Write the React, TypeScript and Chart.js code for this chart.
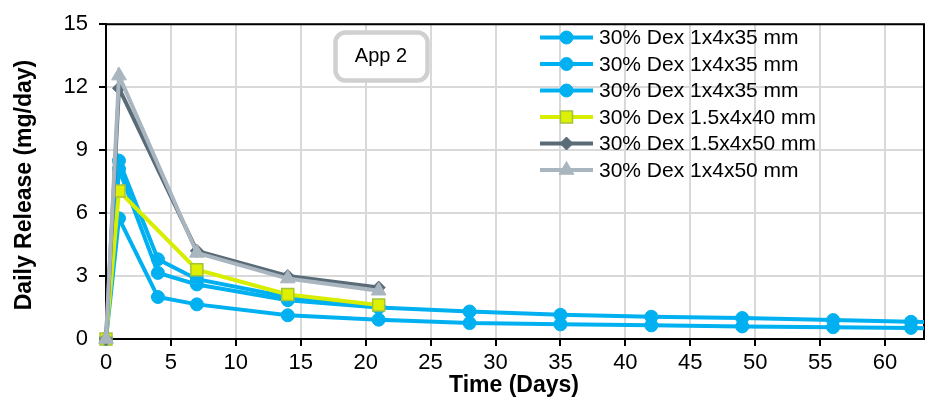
import React, { useEffect, useRef } from "react";
import { Chart, registerables } from "chart.js";

Chart.register(...registerables);

// ---- data ----
const daysShort = [0, 1, 4, 7, 14, 21];
const daysLong = [0, 1, 4, 7, 14, 21, 28, 35, 42, 49, 56, 62, 70];
const daysWeekly = [0, 1, 7, 14, 21];

const blue1 = [0, 8.5, 3.8, 2.85, 2.0, 1.55];
const blue2 = [0, 8.1, 3.15, 2.6, 1.85, 1.5, 1.31, 1.15, 1.06, 1.0, 0.9, 0.82, 0.72];
const blue3 = [0, 5.75, 2.0, 1.65, 1.13, 0.92, 0.76, 0.7, 0.65, 0.6, 0.56, 0.53, 0.42];
const yellow = [0, 7.05, 3.3, 2.12, 1.62];
const darkGray = [0, 11.95, 4.2, 3.0, 2.45];
const lightGray = [0, 12.55, 4.1, 2.88, 2.3];

const seriesLabels = [
  "30% Dex 1x4x35 mm",
  "30% Dex 1x4x35 mm",
  "30% Dex 1x4x35 mm",
  "30% Dex 1.5x4x40 mm",
  "30% Dex 1.5x4x50 mm",
  "30% Dex 1x4x50 mm",
];

const xTitle = "Time (Days)";
const yTitle = "Daily Release (mg/day)";
const boxLabel = "App 2";

const FONT = "'Liberation Sans', Arial, sans-serif";

const pts = (xs: number[], ys: number[]) => xs.map((x, i) => ({ x, y: ys[i] }));

function drawMarker(ctx: CanvasRenderingContext2D, style: string, x: number, y: number, r: number, fill: string, stroke: string, bw: number) {
  ctx.save();
  ctx.beginPath();
  if (style === "circle") {
    ctx.arc(x, y, r, 0, Math.PI * 2);
  } else if (style === "rect") {
    const s = Math.SQRT1_2 * r;
    ctx.rect(x - s, y - s, 2 * s, 2 * s);
  } else if (style === "rectRot") {
    ctx.moveTo(x - r, y);
    ctx.lineTo(x, y - r);
    ctx.lineTo(x + r, y);
    ctx.lineTo(x, y + r);
    ctx.closePath();
  } else if (style === "triangle") {
    ctx.moveTo(x, y - r);
    ctx.lineTo(x + r * Math.sin((Math.PI / 3) * 2), y + r * 0.5);
    ctx.lineTo(x - r * Math.sin((Math.PI / 3) * 2), y + r * 0.5);
    ctx.closePath();
  }
  ctx.fillStyle = fill;
  ctx.fill();
  ctx.lineWidth = bw;
  ctx.strokeStyle = stroke;
  ctx.stroke();
  ctx.restore();
}

const decorPlugin = {
  id: "decor",
  beforeDatasetsDraw(chart: any) {
    const { ctx, chartArea } = chart;
    ctx.save();
    ctx.strokeStyle = "#000";
    ctx.lineWidth = 2;
    ctx.beginPath();
    ctx.moveTo(chartArea.left, chartArea.top);
    ctx.lineTo(chartArea.right, chartArea.top);
    ctx.lineTo(chartArea.right, chartArea.bottom);
    ctx.stroke();
    ctx.restore();
  },
  afterDraw(chart: any) {
    const { ctx } = chart;
    ctx.save();
    // axis titles
    ctx.fillStyle = "#000";
    ctx.font = `bold 23px ${FONT}`;
    ctx.textAlign = "center";
    ctx.textBaseline = "middle";
    ctx.fillText(xTitle, 514, 386);
    ctx.save();
    ctx.translate(25, 185);
    ctx.rotate(-Math.PI / 2);
    ctx.fillText(yTitle, 0, 0);
    ctx.restore();

    // App 2 box
    ctx.beginPath();
    (ctx as any).roundRect(335.5, 32.5, 92, 48, 10);
    ctx.fillStyle = "#fff";
    ctx.fill();
    ctx.lineWidth = 4.5;
    ctx.strokeStyle = "#D0D0D0";
    ctx.stroke();
    ctx.fillStyle = "#000";
    ctx.font = `20px ${FONT}`;
    ctx.fillText(boxLabel, 381, 56);

    // legend
    ctx.textAlign = "left";
    ctx.font = `21px ${FONT}`;
    chart.data.datasets.forEach((ds: any, i: number) => {
      const y = 37.5 + i * 26.5;
      ctx.beginPath();
      ctx.strokeStyle = ds.borderColor;
      ctx.lineWidth = ds.borderWidth;
      ctx.moveTo(540, y);
      ctx.lineTo(593, y);
      ctx.stroke();
      drawMarker(ctx, ds.pointStyle, 566.5, y, ds.pointRadius, ds.pointBackgroundColor, ds.pointBorderColor, ds.pointBorderWidth);
      ctx.fillStyle = "#000";
      ctx.fillText(seriesLabels[i], 599, y + 1);
    });
    ctx.restore();
  },
};

export default function App() {
  const ref = useRef<HTMLCanvasElement | null>(null);
  useEffect(() => {
    if (!ref.current) return;
    const BLUE = "#00B0F0";
    const clip = { left: 12, top: 12, right: 0, bottom: 12 };
    const mk = (label: string, data: any[], color: string, style: string, r: number, fill: string, border: string, bw: number, order: number) => ({
      label,
      data,
      borderColor: color,
      backgroundColor: color,
      borderWidth: 4,
      pointStyle: style,
      pointRadius: r,
      pointBackgroundColor: fill,
      pointBorderColor: border,
      pointBorderWidth: bw,
      tension: 0,
      clip,
      order,
    });
    const chart = new Chart(ref.current, {
      type: "line",
      data: {
        datasets: [
          mk(seriesLabels[0], pts(daysShort, blue1), BLUE, "circle", 6.5, BLUE, BLUE, 1, 6),
          mk(seriesLabels[1], pts(daysLong, blue2), BLUE, "circle", 6.5, BLUE, BLUE, 1, 5),
          mk(seriesLabels[2], pts(daysLong, blue3), BLUE, "circle", 6.5, BLUE, BLUE, 1, 4),
          mk(seriesLabels[3], pts(daysWeekly, yellow), "#D8EE00", "rect", 8.5, "#DDF000", "#A2C43C", 1.5, 3),
          mk(seriesLabels[4], pts(daysWeekly, darkGray), "#5A6B78", "rectRot", 6.5, "#5A6B78", "#5A6B78", 1, 2),
          mk(seriesLabels[5], pts(daysWeekly, lightGray), "#A9B6BF", "triangle", 8.5, "#A9B6BF", "#A9B6BF", 1, 1),
        ] as any,
      },
      options: {
        responsive: false,
        animation: false,
        devicePixelRatio: 1,
        layout: { padding: { top: 20, right: 4, left: 0, bottom: 0 } },
        plugins: { legend: { display: false }, tooltip: { enabled: false } },
        scales: {
          x: {
            type: "linear",
            min: 0,
            max: 63,
            ticks: { stepSize: 5, includeBounds: false, color: "#000", font: { size: 22, family: FONT }, padding: 4, maxRotation: 0 },
            grid: { color: "#D9D9D9", lineWidth: 2, tickColor: "#000", tickLength: 7, tickWidth: 2 },
            border: { color: "#000", width: 2 },
            afterFit: (s: any) => {
              s.height = 62;
            },
          },
          y: {
            type: "linear",
            min: 0,
            max: 15,
            ticks: { stepSize: 3, color: "#000", font: { size: 22, family: FONT }, padding: 11 },
            grid: { color: "#D9D9D9", lineWidth: 2, tickColor: "#000", tickLength: 7, tickWidth: 2 },
            border: { color: "#000", width: 2 },
            afterFit: (s: any) => {
              s.width = 106;
            },
          },
        },
      } as any,
      plugins: [decorPlugin],
    });
    return () => chart.destroy();
  }, []);
  return (
    <div style={{ position: "absolute", left: 0, top: 0, width: 934, height: 401, background: "#fff" }}>
      <canvas ref={ref} width={934} height={401} style={{ width: 934, height: 401, display: "block" }} />
    </div>
  );
}
